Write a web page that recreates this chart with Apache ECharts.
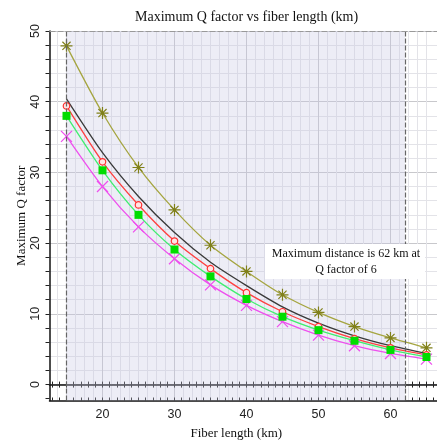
<!DOCTYPE html>
<html><head><meta charset="utf-8">
<script src="https://cdn.jsdelivr.net/npm/echarts@6/dist/echarts.min.js"></script>
<style>html,body{margin:0;padding:0;background:#fff}#c{width:437px;height:446px}</style>
</head><body><div id="c"></div>
<script>
// ---- data ----
const titleText = 'Maximum Q factor vs fiber length (km)';
const xAxisName = 'Fiber length (km)';
const yAxisName = 'Maximum Q factor';
const fiberLength = [15, 20, 25, 30, 35, 40, 45, 50, 55, 60, 65];
const qOlive   = [47.9, 38.4, 30.7, 24.7, 19.7, 16.0, 12.7, 10.2, 8.2, 6.6, 5.2];
const qBlack   = [40.4, 32.8, 26.6, 21.5, 17.3, 14.0, 11.0, 8.7, 6.9, 5.5, 4.4];
const qRed     = [39.4, 31.5, 25.4, 20.3, 16.4, 13.0, 10.3, 8.2, 6.5, 5.2, 4.2];
const qGreen   = [38.0, 30.3, 24.0, 19.1, 15.3, 12.1, 9.6, 7.7, 6.2, 4.9, 3.9];
const qMagenta = [35.1, 28.0, 22.3, 17.8, 14.1, 11.2, 8.9, 7.0, 5.5, 4.4, 3.6];
const xTickLabels = [20, 30, 40, 50, 60];
const yTickLabels = [0, 10, 20, 30, 40, 50];
const maxDistanceKm = 62;
const annotationText = 'Maximum distance is 62 km at\nQ factor of 6';

// ---- axis ranges / tick positions ----
const X_MIN = 12.64, X_MAX = 66.46, Y_MIN = -2.25, Y_MAX = 50;
const xSmallTicks = []; for (let v = 13; v <= 66; v++) xSmallTicks.push(v);
const xMinorGrid = []; for (let v = 13.75; v <= 66; v += 1.25) xMinorGrid.push(+v.toFixed(2));
const ySmallTicks = []; for (let v = -2; v <= 50; v += 2) ySmallTicks.push(v);
const yMinorGrid = []; for (let v = 0; v <= 50; v += 2) yMinorGrid.push(v);

function pairs(ys) { return fiberLength.map((x, i) => [x, ys[i]]); }

function helperX(ticks, lineStyle, extra) {
  return Object.assign({
    type: 'value', min: X_MIN, max: X_MAX, position: 'bottom',
    axisLine: { show: false, onZero: false },
    axisTick: { show: false, customValues: ticks },
    axisLabel: { show: false },
    splitLine: { show: !!lineStyle, lineStyle: lineStyle || {} },
    minorTick: { show: false }, minorSplitLine: { show: false }
  }, extra || {});
}
function helperY(ticks, lineStyle, extra) {
  return Object.assign({
    type: 'value', min: Y_MIN, max: Y_MAX, position: 'left',
    axisLine: { show: false, onZero: false },
    axisTick: { show: false, customValues: ticks },
    axisLabel: { show: false },
    splitLine: { show: !!lineStyle, lineStyle: lineStyle || {} },
    minorTick: { show: false }, minorSplitLine: { show: false }
  }, extra || {});
}

const serif = 'Liberation Serif';
const sans = 'Liberation Sans';

const option = {
  animation: false,
  title: {
    text: titleText, left: 130, top: 5,
    textStyle: { fontFamily: serif, fontSize: 14, fontWeight: 'normal', color: '#111' }
  },
  grid: { left: 49.5, right: 0, top: 31, bottom: 45.5, outerBoundsMode: 'none', containLabel: false },
  xAxis: [
    {
      type: 'value', min: X_MIN, max: X_MAX, position: 'bottom',
      name: xAxisName, nameLocation: 'middle', nameGap: 27,
      nameTextStyle: { fontFamily: serif, fontSize: 13, color: '#111', padding: [0, 14, 0, 0] },
      axisLine: { show: true, onZero: false, lineStyle: { color: '#111', width: 1.5 } },
      axisTick: { show: true, inside: true, length: 3, customValues: xSmallTicks, lineStyle: { color: '#222' } },
      axisLabel: { show: true, customValues: xTickLabels, margin: 8, fontFamily: sans, fontSize: 12.5, color: '#222' },
      splitLine: { show: false }, minorTick: { show: false }, minorSplitLine: { show: false }
    },
    helperX(xMinorGrid, { color: '#e3e3e8', width: 1 }),
    helperX(xTickLabels, { color: '#c8c8cc', width: 1 }),
    {
      type: 'value', min: X_MIN, max: X_MAX, position: 'bottom',
      axisLine: { show: true, onZero: true, onZeroAxisIndex: 0, lineStyle: { color: '#111', width: 1.5 } },
      axisTick: { show: true, inside: false, length: 3, customValues: xSmallTicks, lineStyle: { color: '#222' } },
      axisLabel: { show: false }, splitLine: { show: false }, minorTick: { show: false }, minorSplitLine: { show: false }
    },
    {
      type: 'value', min: X_MIN, max: X_MAX, position: 'bottom',
      axisLine: { show: false, onZero: true, onZeroAxisIndex: 0 },
      axisTick: { show: true, inside: true, length: 3, customValues: xSmallTicks, lineStyle: { color: '#222' } },
      axisLabel: { show: false }, splitLine: { show: false }, minorTick: { show: false }, minorSplitLine: { show: false }
    }
  ],
  yAxis: [
    {
      type: 'value', min: Y_MIN, max: Y_MAX, position: 'left',
      name: yAxisName, nameLocation: 'middle', nameGap: 21, nameMoveOverlap: false,
      nameTextStyle: { fontFamily: serif, fontSize: 13, color: '#111' },
      axisLine: { show: true, onZero: false, lineStyle: { color: '#111', width: 1.5 } },
      axisTick: { show: true, inside: false, length: 4, customValues: ySmallTicks, lineStyle: { color: '#222' } },
      axisLabel: { show: true, customValues: yTickLabels, rotate: 90, margin: 7, fontFamily: sans, fontSize: 12.5, color: '#222' },
      splitLine: { show: false }, minorTick: { show: false }, minorSplitLine: { show: false }
    },
    helperY(yMinorGrid, { color: '#e3e3e8', width: 1 }),
    helperY(yTickLabels, { color: '#c8c8cc', width: 1 })
  ],
  series: [
    {
      name: 'olive', type: 'line', xAxisIndex: 0, yAxisIndex: 0, smooth: 0.25,
      data: pairs(qOlive),
      symbol: 'path://M0,5L10,5M5,0L5,10M1.6,1.6L8.4,8.4M8.4,1.6L1.6,8.4', symbolSize: 12,
      lineStyle: { color: '#a5a540', width: 1.3 },
      itemStyle: { color: 'rgba(0,0,0,0)', borderColor: '#80801a', borderWidth: 1.2 },
      markArea: {
        silent: true,
        itemStyle: { color: 'rgba(200,200,228,0.32)' },
        data: [[{ xAxis: fiberLength[0] }, { xAxis: maxDistanceKm }]]
      },
      markLine: {
        silent: true, symbol: ['none', 'none'], label: { show: false },
        lineStyle: { type: [5, 2], color: '#666', width: 1.2 },
        data: [
          { xAxis: fiberLength[0] },
          { xAxis: maxDistanceKm },
          { yAxis: Y_MAX, lineStyle: { type: [6, 2], color: '#999', width: 1.2 } }
        ]
      },
      z: 3
    },
    {
      name: 'black', type: 'line', xAxisIndex: 0, yAxisIndex: 0, smooth: 0.25,
      data: pairs(qBlack), showSymbol: false, symbol: 'none',
      lineStyle: { color: '#3a3a3a', width: 1.3 }, z: 3
    },
    {
      name: 'red', type: 'line', xAxisIndex: 0, yAxisIndex: 0, smooth: 0.25,
      data: pairs(qRed), symbol: 'circle', symbolSize: 6.5,
      lineStyle: { color: '#ff4040', width: 1.3 },
      itemStyle: { color: '#ffe4e4', borderColor: '#ff3030', borderWidth: 1.2 }, z: 4
    },
    {
      name: 'green', type: 'line', xAxisIndex: 0, yAxisIndex: 0, smooth: 0.25,
      data: pairs(qGreen), symbol: 'rect', symbolSize: 8,
      lineStyle: { color: '#40ee70', width: 1.3 },
      itemStyle: { color: '#00dd00' }, z: 5
    },
    {
      name: 'magenta', type: 'line', xAxisIndex: 0, yAxisIndex: 0, smooth: 0.25,
      data: pairs(qMagenta), symbol: 'path://M0,0L10,10M10,0L0,10', symbolSize: 11,
      lineStyle: { color: '#ee50ee', width: 1.3 },
      itemStyle: { color: 'rgba(0,0,0,0)', borderColor: '#ee50ee', borderWidth: 1.3 }, z: 4
    }
  ],
  graphic: [
    { type: 'rect', left: 265, top: 244, shape: { width: 160, height: 35 }, style: { fill: '#ffffff' }, z: 10 },
    {
      type: 'text', x: 346, y: 246, z: 11,
      style: { text: annotationText, font: '12px "Liberation Serif"', fill: '#111', align: 'center', textAlign: 'center', lineHeight: 16 }
    }
  ]
};

const chart = echarts.init(document.getElementById('c'), null, { renderer: 'canvas' });
chart.setOption(option);
</script>
</body></html>
